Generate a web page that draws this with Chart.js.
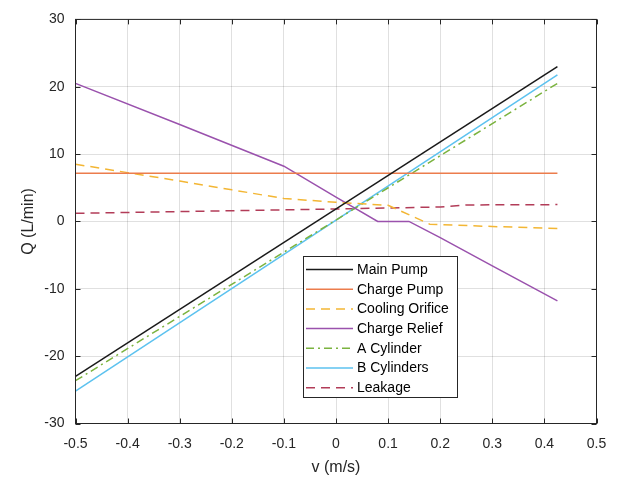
<!DOCTYPE html>
<html>
<head>
<meta charset="utf-8">
<script src="https://cdn.jsdelivr.net/npm/chart.js@4/dist/chart.umd.min.js"></script>
<style>
  body { margin: 0; background: #fff; }
  canvas { display: block; }
</style>
</head>
<body>
<canvas id="flowChart" width="619" height="484"></canvas>
<script>
// Series data (v in m/s, Q in L/min)
const seriesNames = ["Main Pump", "Charge Pump", "Cooling Orifice", "Charge Relief", "A Cylinder", "B Cylinders", "Leakage"];

const mainPumpV = [-0.5, 0.425];
const mainPumpQ = [-23.0, 23.0];

const chargePumpV = [-0.5, 0.425];
const chargePumpQ = [7.15, 7.15];

const coolingV = [-0.5, -0.4, -0.3, -0.2, -0.1, 0.0, 0.1, 0.18, 0.3, 0.425];
const coolingQ = [8.5, 7.25, 6.0, 4.7, 3.4, 2.85, 2.4, -0.4, -0.75, -1.05];

const reliefV = [-0.5, -0.3, -0.1, 0.0, 0.08, 0.14, 0.2, 0.3, 0.425];
const reliefQ = [20.5, 14.4, 8.2, 3.6, 0.0, 0.0, -2.4, -6.6, -11.8];

const aCylV = [-0.5, 0.425];
const aCylQ = [-23.65, 20.5];

const bCylV = [-0.5, 0.425];
const bCylQ = [-25.2, 21.75];

const leakageV = [-0.5, 0.0, 0.2, 0.25, 0.425];
const leakageQ = [1.2, 1.85, 2.15, 2.45, 2.5];

const xTicks = [-0.5, -0.4, -0.3, -0.2, -0.1, 0, 0.1, 0.2, 0.3, 0.4, 0.5];
const yTicks = [-30, -20, -10, 0, 10, 20, 30];

function pairs(vs, qs) {
    return vs.map((v, i) => ({ x: v, y: qs[i] }));
}

const axisColor = "#262626";
const fontFamily = "'Liberation Sans', Arial, sans-serif";

// Draws the MATLAB-style box, inward ticks and the boxed legend
const boxPlugin = {
    id: "boxPlugin",
    afterDatasetsDraw(chart) {
        const { ctx, chartArea: a, scales } = chart;
        ctx.save();
        ctx.strokeStyle = axisColor;
        ctx.lineWidth = 1;
        ctx.strokeRect(a.left, a.top, a.right - a.left, a.bottom - a.top);
        ctx.beginPath();
        xTicks.forEach(t => {
            const x = Math.round(scales.x.getPixelForValue(t)) + 0.5;
            ctx.moveTo(x, a.bottom); ctx.lineTo(x, a.bottom - 5);
            ctx.moveTo(x, a.top); ctx.lineTo(x, a.top + 5);
        });
        yTicks.forEach(t => {
            const y = Math.round(scales.y.getPixelForValue(t)) + 0.5;
            ctx.moveTo(a.left, y); ctx.lineTo(a.left + 5, y);
            ctx.moveTo(a.right, y); ctx.lineTo(a.right - 5, y);
        });
        ctx.stroke();

        // legend box
        const lx = 303, ly = 256, lw = 154, lh = 141;
        ctx.fillStyle = "#fff";
        ctx.fillRect(lx, ly, lw, lh);
        ctx.strokeStyle = axisColor;
        ctx.strokeRect(lx + 0.5, ly + 0.5, lw, lh);
        ctx.font = "14px " + fontFamily;
        ctx.textBaseline = "middle";
        chart.data.datasets.forEach((ds, i) => {
            const y = 269.5 + i * 19.7;
            ctx.beginPath();
            ctx.setLineDash(ds.borderDash || []);
            ctx.strokeStyle = ds.borderColor;
            ctx.lineWidth = ds.borderWidth;
            ctx.moveTo(306, y); ctx.lineTo(353, y);
            ctx.stroke();
            ctx.setLineDash([]);
            ctx.fillStyle = "#000";
            ctx.fillText(ds.label, 357, y + 0.5);
        });
        ctx.restore();
    }
};

const ctx = document.getElementById("flowChart").getContext("2d");

const flowChart = new Chart(ctx, {
    type: "line",
    data: {
        datasets: [
            { label: seriesNames[0], data: pairs(mainPumpV, mainPumpQ), borderColor: "#1a1a1a" },
            { label: seriesNames[1], data: pairs(chargePumpV, chargePumpQ), borderColor: "#ec7c4c" },
            { label: seriesNames[2], data: pairs(coolingV, coolingQ), borderColor: "#f3b634", borderDash: [9, 6] },
            { label: seriesNames[3], data: pairs(reliefV, reliefQ), borderColor: "#9a52ad" },
            { label: seriesNames[4], data: pairs(aCylV, aCylQ), borderColor: "#7bb33f", borderDash: [8, 4, 2, 4] },
            { label: seriesNames[5], data: pairs(bCylV, bCylQ), borderColor: "#5cc2ef" },
            { label: seriesNames[6], data: pairs(leakageV, leakageQ), borderColor: "#b23c58", borderDash: [9, 6] }
        ].map(ds => Object.assign({ borderWidth: 1.5, pointRadius: 0, tension: 0, fill: false }, ds))
    },
    options: {
        responsive: false,
        animation: false,
        layout: { padding: { top: 12.5, right: 22.5, left: 0, bottom: 0 } },
        plugins: {
            legend: { display: false },
            tooltip: { enabled: false }
        },
        scales: {
            x: {
                type: "linear",
                min: -0.5,
                max: 0.5,
                afterFit(scale) { scale.height = 60.5; },
                afterBuildTicks(scale) { scale.ticks = xTicks.map(v => ({ value: v })); },
                grid: { color: "rgba(0,0,0,0.12)", drawTicks: false },
                border: { display: false },
                ticks: {
                    padding: 12,
                    color: axisColor,
                    font: { family: fontFamily, size: 14 },
                    callback: v => String(Math.round(v * 10) / 10)
                },
                title: {
                    display: true,
                    text: "v (m/s)",
                    color: axisColor,
                    font: { family: fontFamily, size: 16 },
                    padding: { top: 0, bottom: 6.4 }
                }
            },
            y: {
                min: -30,
                max: 30,
                afterFit(scale) { scale.width = 75.5; },
                afterBuildTicks(scale) { scale.ticks = yTicks.map(v => ({ value: v })); },
                grid: { color: "rgba(0,0,0,0.12)", drawTicks: false },
                border: { display: false },
                ticks: {
                    padding: 11,
                    color: axisColor,
                    font: { family: fontFamily, size: 14 }
                },
                title: {
                    display: true,
                    text: "Q (L/min)",
                    color: axisColor,
                    font: { family: fontFamily, size: 16 },
                    padding: { top: 19, bottom: 0 }
                }
            }
        }
    },
    plugins: [boxPlugin]
});
</script>
</body>
</html>
